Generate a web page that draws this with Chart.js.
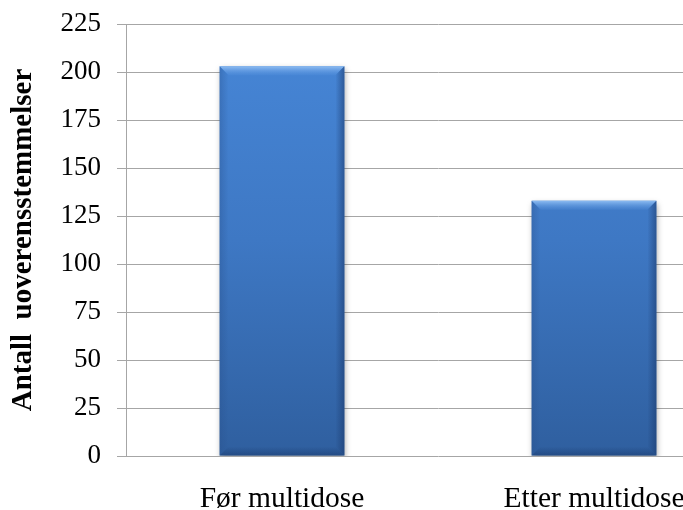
<!DOCTYPE html>
<html>
<head>
<meta charset="utf-8">
<script src="https://cdn.jsdelivr.net/npm/chart.js@4.4.1/dist/chart.umd.min.js"></script>
<style>
  html, body { margin: 0; padding: 0; background: #fff; overflow: hidden; }
  #wrap { width: 683px; height: 510px; overflow: hidden; }
  #wrap div { width: 752px; height: 510px; }
</style>
</head>
<body>
<div id="wrap"><div><canvas id="doseChart" width="752" height="510"></canvas></div></div>
<script>
const categories = ["Før multidose", "Etter multidose"];
const counts = [203, 133];
const yTicks = [0, 25, 50, 75, 100, 125, 150, 175, 200, 225];

const serif = "'Liberation Serif', 'Times New Roman', serif";

function barFill(context) {
  const chart = context.chart;
  const area = chart.chartArea;
  if (!area) return "#3f7fcf";
  const g = chart.ctx.createLinearGradient(0, area.top, 0, area.bottom);
  g.addColorStop(0, "#4787d8");
  g.addColorStop(0.5, "#3e78c4");
  g.addColorStop(1, "#2f5f9f");
  return g;
}

// soft shadow under the bars and a bevelled edge on top of them
const bevelPlugin = {
  id: "bevel",
  beforeDatasetDraw(chart) {
    const ctx = chart.ctx;
    ctx.save();
    ctx.shadowColor = "rgba(0,0,0,0.35)";
    ctx.shadowBlur = 6;
    ctx.shadowOffsetX = 1;
    ctx.shadowOffsetY = 3;
  },
  afterDatasetDraw(chart, args) {
    const ctx = chart.ctx;
    ctx.restore();
    const meta = chart.getDatasetMeta(args.index);
    meta.data.forEach((bar) => {
      const left = bar.x - bar.width / 2;
      const right = bar.x + bar.width / 2;
      const top = bar.y;
      const bottom = bar.base;
      const b = 9;
      ctx.save();
      // top bevel
      const gt = ctx.createLinearGradient(0, top, 0, top + b);
      gt.addColorStop(0, "#8fbdf2");
      gt.addColorStop(1, "rgba(90,150,225,0.2)");
      ctx.fillStyle = gt;
      ctx.beginPath();
      ctx.moveTo(left, top);
      ctx.lineTo(right, top);
      ctx.lineTo(right - b, top + b);
      ctx.lineTo(left + b, top + b);
      ctx.closePath();
      ctx.fill();
      // left bevel
      const gl = ctx.createLinearGradient(left, 0, left + b, 0);
      gl.addColorStop(0, "rgba(40,80,140,0.35)");
      gl.addColorStop(1, "rgba(40,80,140,0)");
      ctx.fillStyle = gl;
      ctx.beginPath();
      ctx.moveTo(left, top);
      ctx.lineTo(left + b, top + b);
      ctx.lineTo(left + b, bottom - b);
      ctx.lineTo(left, bottom);
      ctx.closePath();
      ctx.fill();
      // right bevel
      const gr = ctx.createLinearGradient(right, 0, right - b, 0);
      gr.addColorStop(0, "rgba(25,55,105,0.55)");
      gr.addColorStop(1, "rgba(25,55,105,0)");
      ctx.fillStyle = gr;
      ctx.beginPath();
      ctx.moveTo(right, top);
      ctx.lineTo(right - b, top + b);
      ctx.lineTo(right - b, bottom - b);
      ctx.lineTo(right, bottom);
      ctx.closePath();
      ctx.fill();
      // bottom bevel
      const gb = ctx.createLinearGradient(0, bottom, 0, bottom - b);
      gb.addColorStop(0, "rgba(25,55,105,0.5)");
      gb.addColorStop(1, "rgba(25,55,105,0)");
      ctx.fillStyle = gb;
      ctx.beginPath();
      ctx.moveTo(left, bottom);
      ctx.lineTo(right, bottom);
      ctx.lineTo(right - b, bottom - b);
      ctx.lineTo(left + b, bottom - b);
      ctx.closePath();
      ctx.fill();
      ctx.restore();
    });
  },
};

const ctx = document.getElementById("doseChart").getContext("2d");

new Chart(ctx, {
  type: "bar",
  data: {
    labels: categories,
    datasets: [
      {
        label: "Antall uoverensstemmelser",
        data: counts,
        backgroundColor: barFill,
        borderWidth: 0,
        categoryPercentage: 1,
        barPercentage: 0.4,
      },
    ],
  },
  options: {
    responsive: false,
    animation: false,
    layout: {
      padding: { top: 24, right: 2, left: 0, bottom: 0 },
    },
    plugins: {
      legend: { display: false },
      tooltip: { enabled: false },
    },
    scales: {
      x: {
        afterFit: (scale) => {
          scale.height = 54;
        },
        grid: { display: false, drawTicks: false },
        border: { display: false },
        ticks: {
          color: "#000",
          padding: 26,
          font: { family: serif, size: 29.5 },
        },
      },
      y: {
        min: 0,
        max: 225,
        afterBuildTicks: (scale) => {
          scale.ticks = yTicks.map((v) => ({ value: v }));
        },
        afterFit: (scale) => {
          scale.width = 126;
          // let the top label overhang into the layout padding
          scale.paddingTop = 0;
          scale.paddingBottom = 0;
        },
        grid: {
          color: "#a6a6a6",
          lineWidth: 1,
          tickLength: 9,
        },
        border: { color: "#a6a6a6", width: 1 },
        ticks: {
          color: "#000",
          padding: 16,
          font: { family: serif, size: 27 },
        },
        title: {
          display: true,
          text: "Antall  uoverensstemmelser",
          color: "#000",
          padding: { top: 6, bottom: 0 },
          font: { family: serif, size: 29, weight: "bold" },
        },
      },
    },
  },
  plugins: [bevelPlugin],
});
</script>
</body>
</html>
